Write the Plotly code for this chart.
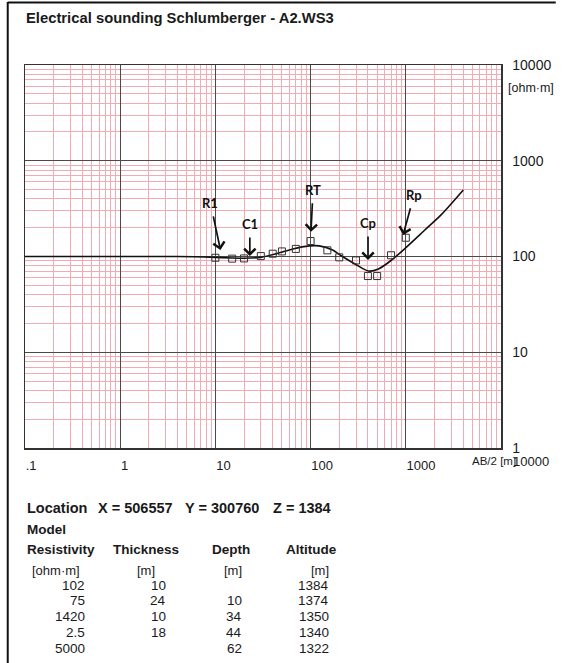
import math
import plotly.graph_objects as go

# ---------------- data ----------------
title_text = "Electrical sounding Schlumberger - A2.WS3"

ab2_obs = [10, 15, 20, 30, 40, 50, 70, 100, 150, 200, 300, 400, 500, 700, 1000]
rho_obs = [97, 95, 95.5, 101, 107, 113, 120, 145, 116, 98, 91, 62.5, 62.5, 103, 157]

ab2_model = [0.1, 1, 4, 10, 15, 20, 30, 44, 65, 97, 123, 170, 216, 296, 407, 516, 711, 977, 1574, 2344, 4018]
rho_model = [100, 100, 100, 98, 96.5, 96, 98, 107, 120, 129, 129, 117, 100, 83, 70.5, 74, 92, 121, 188, 272, 496]

x_tickvals = [0.1, 1, 10, 100, 1000, 10000]
x_ticktext = [".1", "1", "10", "100", "1000", ""]
x_last_label = "10000"
y_tickvals = [1, 10, 100, 1000, 10000]
y_ticktext = ["1", "10", "100", "1000", "10000"]

arrow_labels = ["R1", "C1", "RT", "Cp", "Rp"]
arrow_x = [11.3, 23, 101, 401, 937]
arrow_y = [117, 101, 181, 92, 168]

location_parts = ["Location", "X = 506557", "Y = 300760", "Z = 1384"]
table_headers = ["Resistivity", "Thickness", "Depth", "Altitude"]
table_units = ["[ohm·m]", "[m]", "[m]", "[m]"]
col_resistivity = ["102", "75", "1420", "2.5", "5000"]
col_thickness = ["10", "24", "10", "18", ""]
col_depth = ["", "10", "34", "44", "62"]
col_altitude = ["1384", "1374", "1350", "1340", "1322"]

# ---------------- layout helpers ----------------
W, H = 563, 663
PL, PR, PT, PB = 25, 507.5, 65, 448


def px(x):
    return (x - PL) / (PR - PL)


def py(y):
    return (PB - y) / (PB - PT)


FONT = "Liberation Sans, Arial, sans-serif"
TXT = "#1a1a1a"

fig = go.Figure()

fig.add_trace(go.Scatter(
    x=ab2_model, y=rho_model, mode="lines",
    line=dict(color="#111111", width=1.6, shape="spline", smoothing=0.8),
    hoverinfo="skip"))

fig.add_trace(go.Scatter(
    x=ab2_obs, y=rho_obs, mode="markers",
    marker=dict(symbol="square-open", size=7, color="#333333", line=dict(width=1)),
    hoverinfo="skip"))

annotations = []

# arrow annotations
arrow_ax = [-10, 0, 2, 0, 11]
arrow_ay = [-47, -32, -42, -37, -40]
for lab, xv, yv, ax, ay in zip(arrow_labels, arrow_x, arrow_y, arrow_ax, arrow_ay):
    annotations.append(dict(
        x=math.log10(xv), y=math.log10(yv), xref="x", yref="y",
        text="<b>%s</b>" % lab, showarrow=True, ax=ax, ay=ay,
        arrowhead=4, arrowsize=1.3, arrowwidth=1.7, arrowcolor="#111111",
        startstandoff=4,
        font=dict(family="Lato, Liberation Sans, sans-serif", size=13, color="#111111")))

# title
annotations.append(dict(x=px(24), y=py(17.5), xref="paper", yref="paper",
                        text="<b>%s</b>" % title_text, showarrow=False,
                        xanchor="left", yanchor="middle",
                        font=dict(family=FONT, size=14.8, color=TXT)))

# y unit
annotations.append(dict(x=px(513), y=py(88), xref="paper", yref="paper",
                        text="[ohm·m]", showarrow=False, xanchor="left", yanchor="middle",
                        font=dict(family=FONT, size=12.5, color=TXT)))

# last x tick label (shifted right as in the source) and x axis title
annotations.append(dict(x=px(518), y=py(461), xref="paper", yref="paper",
                        text=x_last_label, showarrow=False, xanchor="left", yanchor="middle",
                        font=dict(family=FONT, size=13, color=TXT)))
annotations.append(dict(x=px(525), y=py(461), xref="paper", yref="paper",
                        text="AB/2 [m]", showarrow=False, xanchor="right", yanchor="middle",
                        font=dict(family=FONT, size=11.5, color=TXT)))

# location line
loc_x = [25, 97, 185, 274]
for t, xx in zip(location_parts, loc_x):
    annotations.append(dict(x=px(xx), y=py(508), xref="paper", yref="paper",
                            text="<b>%s</b>" % t, showarrow=False,
                            xanchor="left", yanchor="middle",
                            font=dict(family=FONT, size=14.5, color=TXT)))

# table headers
annotations.append(dict(x=px(25), y=py(529), xref="paper", yref="paper",
                        text="<b>Model</b>", showarrow=False, xanchor="left", yanchor="middle",
                        font=dict(family=FONT, size=13.5, color=TXT)))
head_x = [25, 112, 213, 288]
for t, xx in zip(table_headers, head_x):
    annotations.append(dict(x=px(xx), y=py(549), xref="paper", yref="paper",
                            text="<b>%s</b>" % t, showarrow=False,
                            xanchor="left", yanchor="middle",
                            font=dict(family=FONT, size=13.5, color=TXT)))
unit_x = [83, 159, 247, 335]
for t, xx in zip(table_units, unit_x):
    annotations.append(dict(x=px(xx), y=py(570), xref="paper", yref="paper",
                            text=t, showarrow=False, xanchor="right", yanchor="middle",
                            font=dict(family=FONT, size=13, color=TXT)))
val_x = [88, 170, 247, 335]
cols = [col_resistivity, col_thickness, col_depth, col_altitude]
for col, xx in zip(cols, val_x):
    for i, v in enumerate(col):
        if v == "":
            continue
        annotations.append(dict(x=px(xx), y=py(585 + i * 15.8), xref="paper", yref="paper",
                                text=v, showarrow=False, xanchor="right", yanchor="middle",
                                font=dict(family=FONT, size=13.5, color=TXT)))

shapes = [
    dict(type="line", xref="paper", yref="paper", x0=px(7.5), x1=px(7.5),
         y0=py(2), y1=py(663), line=dict(color="#111111", width=2)),
    dict(type="line", xref="paper", yref="paper", x0=px(7.5), x1=px(563),
         y0=py(2.5), y1=py(2.5), line=dict(color="#111111", width=2)),
]

fig.update_layout(
    width=W, height=H,
    margin=dict(l=PL, r=W - PR, t=PT, b=H - PB, pad=0),
    paper_bgcolor="white", plot_bgcolor="white",
    showlegend=False,
    font=dict(family=FONT, size=13, color=TXT),
    annotations=annotations,
    shapes=shapes,
    xaxis=dict(type="log", range=[-1, 4], tickmode="array",
               tickvals=x_tickvals, ticktext=x_ticktext,
               showgrid=True, gridcolor="#4a4a4a", gridwidth=1,
               minor=dict(dtick="D1", showgrid=True, gridcolor="#f2aab3", gridwidth=1, ticks=""),
               showline=True, mirror=True, linecolor="#333333", linewidth=1.5,
               ticks="", zeroline=False, ticklabelposition="outside right",
               ticklabelstandoff=5,
               tickfont=dict(family=FONT, size=13, color=TXT), fixedrange=True),
    yaxis=dict(type="log", range=[0, 4], tickmode="array",
               tickvals=y_tickvals, ticktext=y_ticktext, side="right",
               showgrid=True, gridcolor="#4a4a4a", gridwidth=1,
               minor=dict(dtick="D1", showgrid=True, gridcolor="#f2aab3", gridwidth=1, ticks=""),
               showline=True, mirror=True, linecolor="#333333", linewidth=1.5,
               ticks="", zeroline=False, ticklabelstandoff=7,
               tickfont=dict(family=FONT, size=14, color=TXT), fixedrange=True),
)

fig.write_html("out.html", config={"displayModeBar": False, "staticPlot": True},
               post_script="document.body.style.margin='0';document.body.style.padding='0';")
